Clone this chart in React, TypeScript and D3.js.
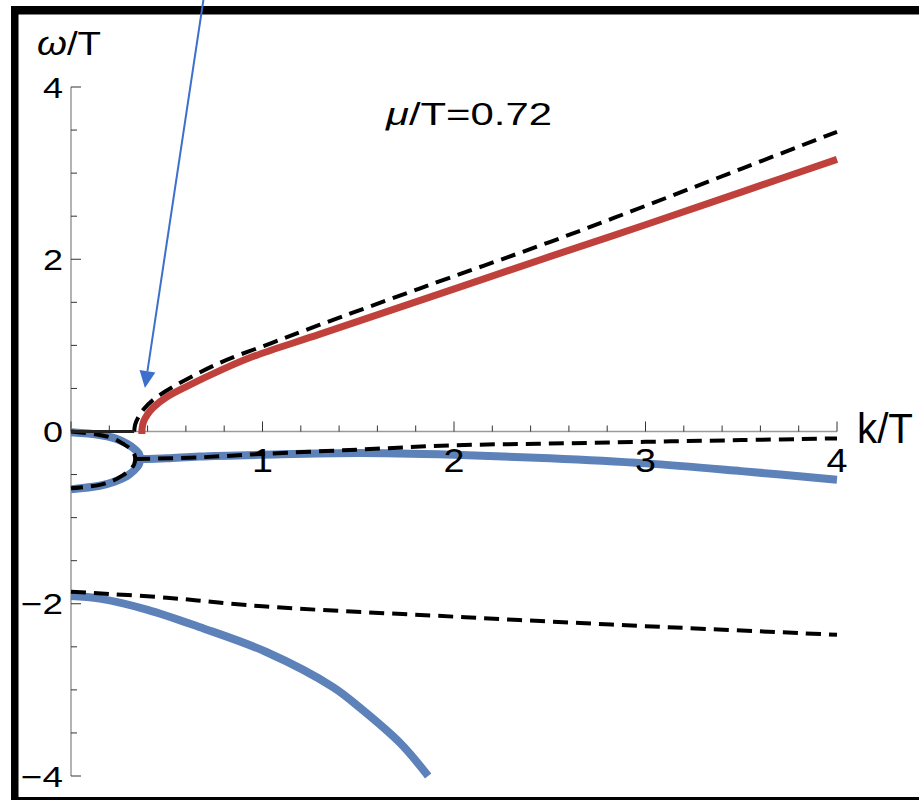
import * as d3 from 'd3';

// curves as [k/T, ω/T] pairs
const redUpper: [number, number][] = [
  [0.37, -0.03], [0.372, 0.05], [0.38, 0.12], [0.4, 0.2], [0.43, 0.28], [0.5, 0.4], [0.61, 0.53],
  [0.78, 0.71], [0.95, 0.87], [1.3, 1.13], [1.82, 1.52], [2.5, 2.03], [3, 2.4], [3.5, 2.78], [4, 3.16],
];
const dashUpper: [number, number][] = [
  [0.33, 0], [0.335, 0.08], [0.35, 0.16], [0.38, 0.26], [0.43, 0.37], [0.55, 0.54], [0.78, 0.8],
  [1.05, 1.03], [1.3, 1.24], [1.82, 1.66], [2.5, 2.2], [3, 2.62], [3.5, 3.05], [4, 3.48],
];
const blueLoop: [number, number][] = [
  [0, -0.01], [0.15, -0.04], [0.23, -0.08], [0.29, -0.14], [0.33, -0.2], [0.355, -0.26], [0.36, -0.32],
  [0.355, -0.38], [0.33, -0.45], [0.29, -0.52], [0.23, -0.58], [0.15, -0.63], [0, -0.67],
];
const dashLoop: [number, number][] = [
  [0, 0], [0.15, -0.04], [0.22, -0.08], [0.27, -0.14], [0.31, -0.2], [0.33, -0.26], [0.335, -0.32],
  [0.33, -0.38], [0.31, -0.44], [0.27, -0.51], [0.22, -0.57], [0.15, -0.62], [0, -0.66],
];
const blueMid: [number, number][] = [
  [0.36, -0.32], [0.5, -0.31], [0.67, -0.29], [1, -0.27], [1.5, -0.25], [2, -0.27],
  [2.5, -0.31], [3, -0.37], [3.5, -0.46], [4, -0.56],
];
const dashMid: [number, number][] = [
  [0.335, -0.32], [0.67, -0.3], [1, -0.26], [1.5, -0.21], [2, -0.16], [2.5, -0.14],
  [3, -0.12], [3.5, -0.1], [4, -0.08],
];
const blueLower: [number, number][] = [
  [0, -1.91], [0.15, -1.94], [0.4, -2.07], [0.67, -2.27], [1.02, -2.56], [1.37, -2.97],
  [1.51, -3.21], [1.72, -3.62], [1.865, -4],
];
const dashLower: [number, number][] = [
  [0, -1.86], [0.5, -1.93], [1, -2.03], [2, -2.15], [3, -2.26], [4, -2.36],
];
const flatSegment: [number, number][] = [[0, 0], [0.33, 0]];

const xTicks = [1, 2, 3, 4];
const yTicks = [4, 2, 0, -2, -4];
const arrowFrom: [number, number] = [0.692, 5.02];
const arrowTo: [number, number] = [0.386, 0.505];

const W = 919;
const H = 800;
const BLUE = '#5d81b9';
const RED = '#c0413b';
const FONT = '"Liberation Sans", Arial, Helvetica, sans-serif';

export default function App() {
  const x = d3.scaleLinear().domain([0, 4]).range([71, 837]);
  const y = d3.scaleLinear().domain([-4, 4]).range([776, 87]);
  const line = d3.line<[number, number]>()
    .x(d => x(d[0]))
    .y(d => y(d[1]))
    .curve(d3.curveCatmullRom.alpha(0.5));

  const xMinor = d3.range(0, 4.001, 0.2);
  const yMinor = d3.range(-4, 4.001, 0.5);

  // arrow geometry
  const ax0 = x(arrowFrom[0]), ay0 = y(arrowFrom[1]);
  const ax1 = x(arrowTo[0]), ay1 = y(arrowTo[1]);
  const ang = Math.atan2(ay1 - ay0, ax1 - ax0);
  const headLen = 17, headW = 8;
  const bx = ax1 - headLen * Math.cos(ang), by = ay1 - headLen * Math.sin(ang);
  const head = [
    [ax1, ay1],
    [bx + headW * Math.sin(ang), by - headW * Math.cos(ang)],
    [bx - headW * Math.sin(ang), by + headW * Math.cos(ang)],
  ].map(p => p.join(',')).join(' ');

  const dash = { fill: 'none', stroke: '#000', strokeWidth: 4, strokeDasharray: '15 8' };

  return (
    <div style={{ position: 'absolute', left: 0, top: 0 }}>
      <svg width={W} height={H} style={{ display: 'block', background: '#fff' }} fontFamily={FONT}>
        {/* frame */}
        <rect x={11} y={6} width={W - 11} height={8.5} fill="#000" />
        <rect x={11} y={6} width={7.5} height={H - 6} fill="#000" />
        <rect x={11} y={797} width={W - 11} height={3} fill="#000" />

        {/* axes */}
        <line x1={x(0)} x2={x(0)} y1={y(4)} y2={y(-4)} stroke="#9a9a9a" strokeWidth={1.5} />
        <line x1={x(0)} x2={x(4)} y1={y(0)} y2={y(0)} stroke="#9a9a9a" strokeWidth={1.5} />
        {yMinor.map(v => {
          const major = Math.abs(v % 2) < 1e-6;
          return (
            <line key={'yt' + v} x1={x(0)} x2={x(0) + (major ? 10 : 6)} y1={y(v)} y2={y(v)}
              stroke="#333" strokeWidth={1} />
          );
        })}
        {xMinor.map(v => {
          const major = Math.abs(v - Math.round(v)) < 1e-6;
          return (
            <line key={'xt' + v} x1={x(v)} x2={x(v)} y1={y(0)} y2={y(0) - (major ? 10 : 6)}
              stroke="#333" strokeWidth={1} />
          );
        })}

        {/* curves */}
        <path d={line(blueLoop)!} fill="none" stroke={BLUE} strokeWidth={8} strokeLinejoin="round" />
        <path d={line(blueMid)!} fill="none" stroke={BLUE} strokeWidth={8} />
        <path d={line(blueLower)!} fill="none" stroke={BLUE} strokeWidth={8} />
        <path d={line(redUpper)!} fill="none" stroke={RED} strokeWidth={7} />
        <path d={line(dashUpper)!} {...dash} />
        <path d={line(dashLoop)!} {...dash} />
        <path d={line(dashMid)!} {...dash} />
        <path d={line(dashLower)!} {...dash} />
        <path d={line(flatSegment)!} fill="none" stroke="#222" strokeWidth={3} />

        {/* tick labels */}
        {yTicks.map(v => (
          <text key={'yl' + v} x={63} y={y(v) + 10.5} textAnchor="end" fontSize={29}
            textLength={v < 0 ? 42 : 20} lengthAdjust="spacingAndGlyphs">
            {v < 0 ? '\u2212' + Math.abs(v) : v}
          </text>
        ))}
        {xTicks.map(v => (
          <text key={'xl' + v} x={x(v)} y={472} textAnchor="middle" fontSize={33}
            textLength={21} lengthAdjust="spacingAndGlyphs">
            {v}
          </text>
        ))}

        {/* axis labels and annotation */}
        <text x={37} y={55} fontSize={34} textLength={64} lengthAdjust="spacingAndGlyphs">
          <tspan fontStyle="italic">ω</tspan>/T
        </text>
        <text x={857} y={443} fontSize={43} textLength={56} lengthAdjust="spacingAndGlyphs">k/T</text>
        <text x={386} y={125} fontSize={32} textLength={166} lengthAdjust="spacingAndGlyphs">
          <tspan fontStyle="italic">μ</tspan>/T=0.72
        </text>

        {/* arrow */}
        <line x1={ax0} y1={ay0} x2={bx} y2={by} stroke="#3d6fcc" strokeWidth={2} />
        <polygon points={head} fill="#3d6fcc" />
      </svg>
    </div>
  );
}
